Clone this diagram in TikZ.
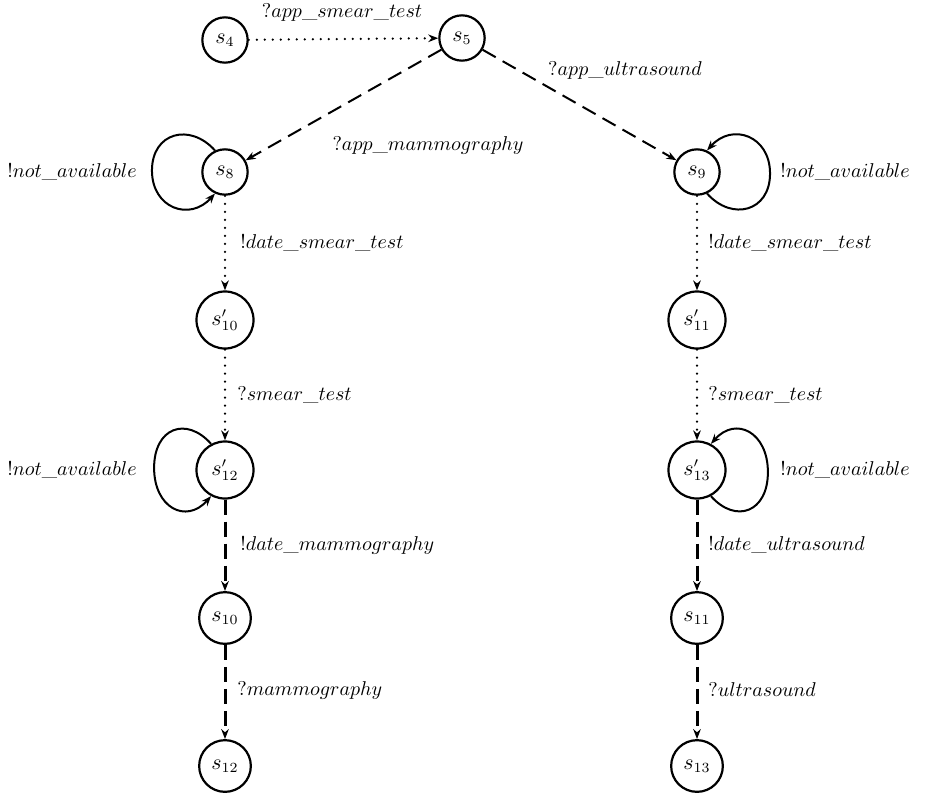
\documentclass[tikz,border=0pt]{standalone}
\usetikzlibrary{arrows.meta}
\begin{document}
\begin{tikzpicture}[x=0.5pt,y=-0.5pt,
  st/.style={circle,draw,line width=1.1pt,minimum size=22pt,inner sep=4pt,font=\fontsize{10.5}{12}\selectfont},
  tip/.style={-{Stealth[length=5pt,width=3.8pt]}},
  dots/.style={tip,line width=1.25pt,line cap=round,dash pattern=on 0pt off 4pt},
  dashA/.style={tip,line width=1pt,dash pattern=on 7.5pt off 4pt},
  dashB/.style={tip,line width=1.5pt,dash pattern=on 7.5pt off 3.5pt},
  loopst/.style={tip,line width=1pt},
  lab/.style={inner sep=1pt,font=\fontsize{10.2}{12}\selectfont}
]
\useasboundingbox (0,0) rectangle (926,793);

\node[st] (s4) at (225,40) {$s_4$};
\node[st] (s5) at (462,38) {$s_5$};
\node[st] (s8) at (225,172) {$s_8$};
\node[st] (s9) at (697,172) {$s_9$};
\node[st] (s10p) at (225,320) {$s'_{10}$};
\node[st] (s11p) at (697,320) {$s'_{11}$};
\node[st] (s12p) at (225,470) {$s'_{12}$};
\node[st] (s13p) at (697,470) {$s'_{13}$};
\node[st] (s10) at (225,618) {$s_{10}$};
\node[st] (s11) at (697,618) {$s_{11}$};
\node[st] (s12) at (225,766) {$s_{12}$};
\node[st] (s13) at (697,766) {$s_{13}$};

\draw[dots] (s4) -- (s5);
\draw[dashA] (s5) -- (s8);
\draw[dashA] (s5) -- (s9);
\draw[dots] (s8) -- (s10p);
\draw[dots] (s10p) -- (s12p);
\draw[dots] (s9) -- (s11p);
\draw[dots] (s11p) -- (s13p);
\draw[dashB] (s12p) -- (s10);
\draw[dashB] (s10) -- (s12);
\draw[dashB] (s13p) -- (s11);
\draw[dashB] (s11) -- (s13);

\draw[loopst] (s8.115) .. controls +(-25,-28) and +(0,-38) .. ++(-63,20)
  .. controls +(0,38) and +(-25,28) .. (s8.245);
\draw[loopst] (s9.295) .. controls +(25,28) and +(0,38) .. ++(63,-20)
  .. controls +(0,-38) and +(25,-28) .. (s9.65);
\draw[loopst] (s12p.118) .. controls +(-25,-28) and +(0,-40) .. ++(-57,24)
  .. controls +(0,40) and +(-25,28) .. (s12p.242);
\draw[loopst] (s13p.298) .. controls +(25,28) and +(0,40) .. ++(57,-24)
  .. controls +(0,-40) and +(25,-28) .. (s13p.62);

\node[lab] (l1) at (342,12) {$?app\_smear\_test$};
\node[lab] (l2) at (625,70) {$?app\_ultrasound$};
\node[lab] (l3) at (428,145) {$?app\_mammography$};
\node[lab] (l4) at (72,172) {$!not\_available$};
\node[lab] (l5) at (845,172) {$!not\_available$};
\node[lab,anchor=west] (l6) at (238,243) {$!date\_smear\_test$};
\node[lab,anchor=west] (l7) at (706,243) {$!date\_smear\_test$};
\node[lab,anchor=west] (l8) at (235,395) {$?smear\_test$};
\node[lab,anchor=west] (l9) at (706,395) {$?smear\_test$};
\node[lab] (l10) at (72,470) {$!not\_available$};
\node[lab] (l11) at (845,470) {$!not\_available$};
\node[lab,anchor=west] (l12) at (238,545) {$!date\_mammography$};
\node[lab,anchor=west] (l13) at (706,545) {$!date\_ultrasound$};
\node[lab,anchor=west] (l14) at (235,690) {$?mammography$};
\node[lab,anchor=west] (l15) at (706,690) {$?ultrasound$};
\end{tikzpicture}
\end{document}
